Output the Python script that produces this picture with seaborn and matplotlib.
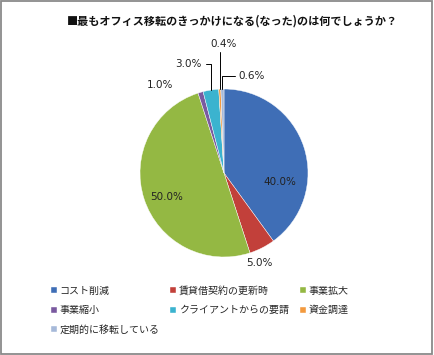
import numpy as np
import matplotlib
matplotlib.use('Agg')
import matplotlib.pyplot as plt
from matplotlib.patches import Rectangle
import seaborn as sns

# data
categories = ['コスト削減', '賃貸借契約の更新時', '事業拡大', '事業縮小',
              'クライアントからの要請', '資金調達', '定期的に移転している']
shares = [40.0, 5.0, 50.0, 1.0, 3.0, 0.4, 0.6]
slice_colors = ['#3F6EB6', '#C2403A', '#94B843', '#7A5AA0',
                '#3BB3CF', '#F39A3E', '#A6B9D9']
title = '■最もオフィス移転のきっかけになる(なった)のは何でしょうか？'

# label placement (data units, pie radius = 1)
label_pos = [(0.66, -0.11), (0.42, -1.07), (-0.68, -0.29), (-0.76, 1.05),
             (-0.42, 1.30), (0.0, 1.53), (0.33, 1.15)]
# which labels get a leader line, and the elbow y of it
leaders = {4: 1.30, 5: None, 6: 1.15}

sns.set_theme(style='white')
plt.rcParams['font.family'] = ['Noto Sans CJK JP', 'DejaVu Sans']

fig = plt.figure(figsize=(4.34, 3.55), dpi=100)
cx, cy, r = 224, 173, 84  # pixel centre / radius of pie
half = 1.6 * r
ax = fig.add_axes([(cx - half) / 434, (355 - cy - half) / 355, 2 * half / 434, 2 * half / 355])

wedges, _ = ax.pie(shares, colors=slice_colors, startangle=90, counterclock=False,
                   radius=1.0, wedgeprops=dict(edgecolor='white', linewidth=0.3))
ax.set_xlim(-1.6, 1.6)
ax.set_ylim(-1.6, 1.6)
ax.axis('off')

for i, (w, v) in enumerate(zip(wedges, shares)):
    lx, ly = label_pos[i]
    ax.text(lx, ly, f'{v:.1f}%', ha='center', va='center', fontsize=7.5,
            family='DejaVu Sans', color='#222222')
    if i in leaders:
        mid = np.deg2rad((w.theta1 + w.theta2) / 2)
        px, py = np.cos(mid), np.sin(mid)
        if leaders[i] is None:
            xs, ys = [px, px], [py, ly - 0.09]
        else:
            ey = leaders[i]
            tx = lx + (0.2 if lx < px else -0.2)
            xs, ys = [px, px, tx], [py, ey, ey]
        ax.plot(xs, ys, color='black', lw=0.7)

fig.text(0.535, 0.94, title, ha='center', va='center', fontsize=8,
         fontweight='bold', color='#111111')

# legend laid out row by row like the original
order = [0, 3, 6, 1, 4, 2, 5]
leg = fig.legend([wedges[k] for k in order], [categories[k] for k in order],
                 ncol=3, loc='upper left', bbox_to_anchor=(0.117, 0.195),
                 borderaxespad=0, borderpad=0,
                 frameon=False, fontsize=7.2, handlelength=0.6, handleheight=0.6,
                 handletextpad=0.3, columnspacing=1.05, labelspacing=0.95)

fig.patches.append(Rectangle((0.003, 0.004), 0.993, 0.992, transform=fig.transFigure,
                             fill=False, edgecolor='#8a8a8a', linewidth=1.3))

fig.savefig('out.png', dpi=100)
